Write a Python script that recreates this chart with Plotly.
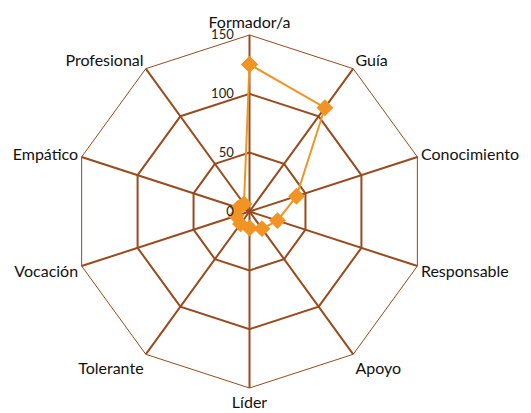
import plotly.graph_objects as go

categories = ["Formador/a", "Guía", "Conocimiento", "Responsable", "Apoyo",
              "Líder", "Tolerante", "Vocación", "Empático", "Profesional"]
values = [125, 109, 42, 25, 18, 14, 13, 12, 10, 8]
tick_vals = [0, 50, 100, 150]
tick_text = ["0", "50", "100", "150"]

brown = "#9A4A1C"
orange = "#F29423"
pad = "\u00a0" * 4

fig = go.Figure()
fig.add_trace(go.Scatterpolar(
    r=values + values[:1],
    theta=categories + categories[:1],
    mode="lines+markers",
    line=dict(color=orange, width=2),
    marker=dict(symbol="diamond", size=13, color=orange),
    showlegend=False,
))

fig.update_layout(
    width=531, height=413,
    margin=dict(l=65, r=113, t=27, b=33),
    paper_bgcolor="white",
    font=dict(family="Lato, Open Sans, sans-serif", color="#222222"),
    polar=dict(
        bgcolor="white",
        gridshape="linear",
        radialaxis=dict(
            range=[0, 150], tickvals=tick_vals,
            ticktext=[t + pad for t in tick_text],
            angle=90, tickangle=90, side="counterclockwise",
            showline=False, gridcolor=brown, gridwidth=1.6,
            ticks="", tickfont=dict(size=13, color="#222222"),
        ),
        angularaxis=dict(
            rotation=90, direction="clockwise",
            showline=True, linecolor=brown, linewidth=1,
            gridcolor=brown, gridwidth=1.6, ticks="",
            tickfont=dict(size=16, color="#111111"),
        ),
    ),
)

fig.write_html("out.html")
